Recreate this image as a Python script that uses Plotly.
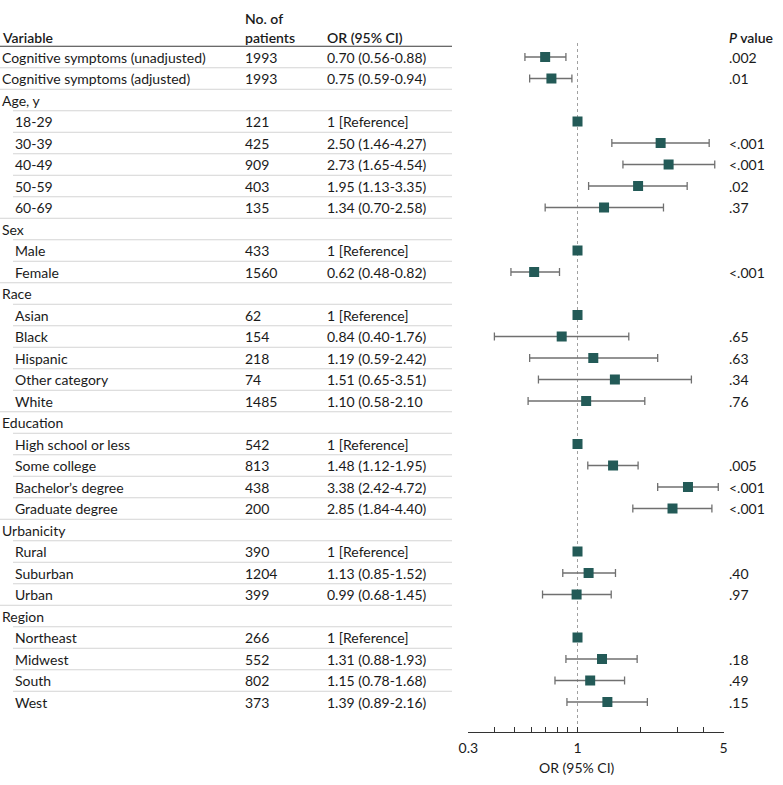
import plotly.graph_objects as go

labels = ["Cognitive symptoms (unadjusted)", "Cognitive symptoms (adjusted)", "Age, y",
          "18-29", "30-39", "40-49", "50-59", "60-69", "Sex", "Male", "Female",
          "Race", "Asian", "Black", "Hispanic", "Other category", "White",
          "Education", "High school or less", "Some college", "Bachelor’s degree", "Graduate degree",
          "Urbanicity", "Rural", "Suburban", "Urban",
          "Region", "Northeast", "Midwest", "South", "West"]
levels = ["top", "top", "group", "sub", "sub", "sub", "sub", "sub", "group", "sub", "sub",
          "group", "sub", "sub", "sub", "sub", "sub",
          "group", "sub", "sub", "sub", "sub",
          "group", "sub", "sub", "sub",
          "group", "sub", "sub", "sub", "sub"]
n_patients = ["1993", "1993", "", "121", "425", "909", "403", "135", "", "433", "1560",
              "", "62", "154", "218", "74", "1485",
              "", "542", "813", "438", "200",
              "", "390", "1204", "399",
              "", "266", "552", "802", "373"]
or_vals = [0.70, 0.75, None, 1, 2.50, 2.73, 1.95, 1.34, None, 1, 0.62,
           None, 1, 0.84, 1.19, 1.51, 1.10,
           None, 1, 1.48, 3.38, 2.85,
           None, 1, 1.13, 0.99,
           None, 1, 1.31, 1.15, 1.39]
ci_low = [0.56, 0.59, None, None, 1.46, 1.65, 1.13, 0.70, None, None, 0.48,
          None, None, 0.40, 0.59, 0.65, 0.58,
          None, None, 1.12, 2.42, 1.84,
          None, None, 0.85, 0.68,
          None, None, 0.88, 0.78, 0.89]
ci_high = [0.88, 0.94, None, None, 4.27, 4.54, 3.35, 2.58, None, None, 0.82,
           None, None, 1.76, 2.42, 3.51, 2.10,
           None, None, 1.95, 4.72, 4.40,
           None, None, 1.52, 1.45,
           None, None, 1.93, 1.68, 2.16]
ci_text = ["0.70 (0.56-0.88)", "0.75 (0.59-0.94)", "", "1 [Reference]", "2.50 (1.46-4.27)",
           "2.73 (1.65-4.54)", "1.95 (1.13-3.35)", "1.34 (0.70-2.58)", "", "1 [Reference]",
           "0.62 (0.48-0.82)", "", "1 [Reference]", "0.84 (0.40-1.76)", "1.19 (0.59-2.42)",
           "1.51 (0.65-3.51)", "1.10 (0.58-2.10", "", "1 [Reference]", "1.48 (1.12-1.95)",
           "3.38 (2.42-4.72)", "2.85 (1.84-4.40)", "", "1 [Reference]", "1.13 (0.85-1.52)",
           "0.99 (0.68-1.45)", "", "1 [Reference]", "1.31 (0.88-1.93)", "1.15 (0.78-1.68)",
           "1.39 (0.89-2.16)"]
p_values = [".002", ".01", "", "", "<.001", "<.001", ".02", ".37", "", "", "<.001",
            "", "", ".65", ".63", ".34", ".76",
            "", "", ".005", "<.001", "<.001",
            "", "", ".40", ".97",
            "", "", ".18", ".49", ".15"]
tick_vals = [0.3, 0.4, 0.5, 0.6, 0.7, 0.8, 0.9, 1, 2, 3, 4, 5]
tick_text = ["0.3", "", "", "", "", "", "", "1", "", "", "", "5"]

W, H = 783, 785
FONT = "Lato"
TXT = "#1a1a1a"
PLOT_H = 732  # plot area height in px (top margin 0)
nrows = len(labels)
rows = list(range(nrows))

fig = go.Figure()

# error bars (only for estimated rows)
ex, ey, ep, em = [], [], [], []
for i in rows:
    if or_vals[i] is not None and ci_low[i] is not None:
        ex.append(or_vals[i]); ey.append(i)
        ep.append(ci_high[i] - or_vals[i]); em.append(or_vals[i] - ci_low[i])
fig.add_trace(go.Scatter(
    x=ex, y=ey, mode="markers",
    marker=dict(size=1, color="rgba(0,0,0,0)"),
    error_x=dict(type="data", symmetric=False, array=ep, arrayminus=em,
                 color="#707070", thickness=1.3, width=4),
    hoverinfo="skip", showlegend=False))

mx = [or_vals[i] for i in rows if or_vals[i] is not None]
my = [i for i in rows if or_vals[i] is not None]
fig.add_trace(go.Scatter(
    x=mx, y=my, mode="markers",
    marker=dict(symbol="square", size=10, color="#235a57", line=dict(width=0)),
    showlegend=False))

# reference dotted line at OR = 1
fig.add_shape(type="line", xref="x", yref="y", x0=1, x1=1, y0=-0.65, y1=31.4,
              line=dict(color="#a0a0a0", width=1, dash="dot"), layer="below")

# table lines
fig.add_shape(type="line", xref="paper", yref="y", x0=0, x1=452 / W, y0=-0.5, y1=-0.5,
              line=dict(color="#3a3a3a", width=1))
for i in range(nrows - 1):
    start = 13 / W if levels[i + 1] == "sub" else 0
    fig.add_shape(type="line", xref="paper", yref="y", x0=start, x1=452 / W,
                  y0=i + 0.5, y1=i + 0.5, line=dict(color="#d4d4d4", width=1))

def ann(text, xpx, y, size=14, weight=None):
    f = dict(family=FONT, size=size, color=TXT)
    if weight:
        f["weight"] = weight
    fig.add_annotation(text=text, x=xpx / W, xref="paper", y=y, yref="y",
                       xanchor="left", yanchor="middle", showarrow=False, font=f)

# headers
hy = (37 - 57) / 21.5
ann("Variable", 0, hy, weight=600)
ann("No. of", 243, (18 - 57) / 21.5, weight=600)
ann("patients", 243, hy, weight=600)
ann("OR (95% CI)", 325, hy, weight=600)
ann("<i>P</i> value", 727, hy, weight=600)

for i in rows:
    ann(labels[i], 13 if levels[i] == "sub" else 0, i)
    if n_patients[i]:
        ann(n_patients[i], 243, i)
    if ci_text[i]:
        ann(ci_text[i], 325, i)
    if p_values[i]:
        ann(p_values[i], 727, i)

# axis title
fig.add_annotation(text="OR (95% CI)", x=577 / W, xref="paper", y=(PLOT_H - 767) / PLOT_H,
                   yref="paper", xanchor="center", yanchor="middle", showarrow=False,
                   font=dict(family=FONT, size=14, color=TXT))

fig.update_layout(
    width=W, height=H,
    margin=dict(l=0, r=0, t=0, b=H - PLOT_H, autoexpand=False),
    paper_bgcolor="white", plot_bgcolor="white",
    font=dict(family=FONT, color=TXT),
    xaxis=dict(type="log", range=[-0.5229, 0.69897],
               domain=[468.3 / W, 723.5 / W],
               tickvals=tick_vals, ticktext=tick_text,
               ticks="inside", ticklen=5, tickcolor="#333", tickwidth=1,
               showline=True, linecolor="#333", linewidth=1,
               showgrid=False, zeroline=False, automargin=False,
               tickfont=dict(family=FONT, size=14, color=TXT),
               ticklabelstandoff=3),
    yaxis=dict(range=[31.395, -2.651], visible=False, showgrid=False, zeroline=False,
               automargin=False),
)

fig.write_html("out.html", config={"displayModeBar": False},
               post_script="document.body.style.margin='0';document.body.style.overflow='hidden';")
